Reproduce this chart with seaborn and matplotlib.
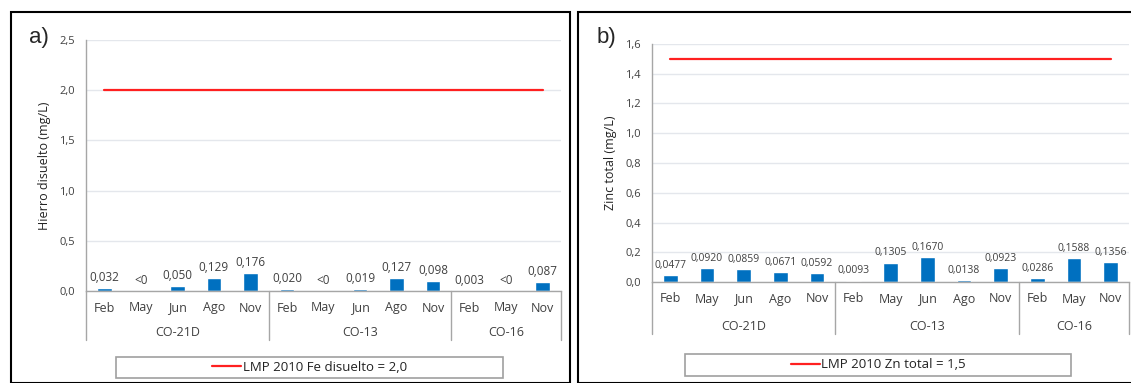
import numpy as np
import pandas as pd
import seaborn as sns
import matplotlib.pyplot as plt
from matplotlib.patches import Rectangle
from matplotlib.lines import Line2D
import matplotlib.transforms as mtransforms

# ---- data ----
months_a = ['Feb', 'May', 'Jun', 'Ago', 'Nov', 'Feb', 'May', 'Jun', 'Ago', 'Nov', 'Feb', 'May', 'Nov']
groups_a = ['CO-21D'] * 5 + ['CO-13'] * 5 + ['CO-16'] * 3
fe = [0.032, 0.0, 0.050, 0.129, 0.176, 0.020, 0.0, 0.019, 0.127, 0.098, 0.003, 0.0, 0.087]
fe_labels = ['0,032', '<0', '0,050', '0,129', '0,176', '0,020', '<0', '0,019', '0,127', '0,098', '0,003', '<0', '0,087']
fe_limit = 2.0

months_b = ['Feb', 'May', 'Jun', 'Ago', 'Nov', 'Feb', 'May', 'Jun', 'Ago', 'Nov', 'Feb', 'May', 'Nov']
groups_b = ['CO-21D'] * 5 + ['CO-13'] * 5 + ['CO-16'] * 3
zn = [0.0477, 0.0920, 0.0859, 0.0671, 0.0592, 0.0093, 0.1305, 0.1670, 0.0138, 0.0923, 0.0286, 0.1588, 0.1356]
zn_limit = 1.5

BLUE = '#0070C0'
RED = '#FF2020'
GRID = '#E4E7EC'
AXC = '#A6A6A6'
TXT = '#404040'

sns.set_theme(style='white')
plt.rcParams['font.family'] = ['Open Sans', 'DejaVu Sans']

W, H = 1131, 383
fig = plt.figure(figsize=(W / 100, H / 100), dpi=100)


def fx(px):
    return px / W


def fy(py):
    return 1 - py / H


def comma(v, nd):
    return f'{v:.{nd}f}'.replace('.', ',')


def panel(rect, months, groups, vals, labels, limit, ymax, ystep, ylabel,
          lab_fs, month_off, group_off, sep_len):
    ax = fig.add_axes(rect)
    df = pd.DataFrame({'pos': np.arange(len(vals)), 'val': vals})
    sns.barplot(data=df, x='pos', y='val', color=BLUE, saturation=1,
                width=0.4, ax=ax, errorbar=None)
    n = len(vals)
    sns.lineplot(x=np.arange(n), y=[limit] * n, color=RED, lw=1.6, ax=ax)
    ax.set_xlim(-0.5, n - 0.5)
    ax.set_ylim(0, ymax)
    yt = np.arange(0, ymax + 1e-9, ystep)
    ax.set_yticks(yt)
    ax.set_yticklabels([comma(t, 1) for t in yt], fontsize=8, color=TXT)
    ax.tick_params(axis='y', length=0, pad=8)
    ax.set_xticks([])
    ax.set_xlabel('')
    ax.set_ylabel(ylabel, fontsize=9, color='#222222', labelpad=6)
    ax.grid(axis='y', color=GRID, lw=1)
    ax.set_axisbelow(True)
    for s in ['top', 'right']:
        ax.spines[s].set_visible(False)
    for s in ['left', 'bottom']:
        ax.spines[s].set_color(AXC)
        ax.spines[s].set_linewidth(1)

    # value labels
    for i, (v, t) in enumerate(zip(vals, labels)):
        ax.annotate(t, (i, v), xytext=(0, 3), textcoords='offset points',
                    ha='center', va='bottom', fontsize=lab_fs, color=TXT)

    # multi-level category axis
    tr = mtransforms.blended_transform_factory(ax.transData, ax.transAxes)
    ax_h = rect[3] * H
    for i, m in enumerate(months):
        ax.text(i, -month_off / ax_h, m, transform=tr, ha='center', va='center',
                fontsize=9, color=TXT)
    bounds = [0]
    for i in range(1, n):
        if groups[i] != groups[i - 1]:
            bounds.append(i)
    bounds.append(n)
    for a, b in zip(bounds[:-1], bounds[1:]):
        ax.text((a + b - 1) / 2, -group_off / ax_h, groups[a], transform=tr,
                ha='center', va='center', fontsize=9, color=TXT)
    for b in bounds:
        ax.add_line(Line2D([b - 0.5, b - 0.5], [0, -sep_len / ax_h], transform=tr,
                           color=AXC, lw=1, clip_on=False))
    return ax


ax_a = panel([fx(86), fy(291), fx(561 - 86), (291 - 40) / H], months_a, groups_a,
             fe, fe_labels, fe_limit, 2.5, 0.5, 'Hierro disuelto (mg/L)',
             8.5, 17, 41, 49)
zn_labels = [comma(v, 4) for v in zn]
ax_b = panel([fx(652), fy(282), fx(1129 - 652), (282 - 44) / H], months_b, groups_b,
             zn, zn_labels, zn_limit, 1.6, 0.2, 'Zinc total (mg/L)',
             7.5, 17, 44, 52)

# panel frames
fig.patches.append(Rectangle((fx(10.5), fy(383)), fx(570 - 10.5), fy(11.5) - fy(383),
                             transform=fig.transFigure, fill=False, ec='black', lw=1.5))
fig.patches.append(Rectangle((fx(578), fy(383)), fx(1140 - 578), fy(11.5) - fy(383),
                             transform=fig.transFigure, fill=False, ec='black', lw=1.5))

fig.text(fx(29), fy(38), 'a)', fontsize=16, va='center', ha='left', family=['Liberation Sans'])
fig.text(fx(597), fy(38), 'b)', fontsize=16, va='center', ha='left', family=['Liberation Sans'])


def legend_box(x0, x1, y0, y1, label):
    fig.patches.append(Rectangle((fx(x0), fy(y1)), fx(x1 - x0), fy(y0) - fy(y1),
                                 transform=fig.transFigure, fill=False, ec='#A0A0A0', lw=1.2))
    h = Line2D([], [], color=RED, lw=1.6)
    fig.legend([h], [label], loc='center', frameon=False, fontsize=9.5,
               bbox_to_anchor=(fx((x0 + x1) / 2), fy((y0 + y1) / 2)),
               handlelength=2.2, handletextpad=0.1, labelcolor='#222222')


legend_box(116, 503, 357, 378, 'LMP 2010 Fe disuelto = 2,0')
legend_box(685, 1071, 354, 376, 'LMP 2010 Zn total = 1,5')

fig.savefig('out.png', dpi=100)
